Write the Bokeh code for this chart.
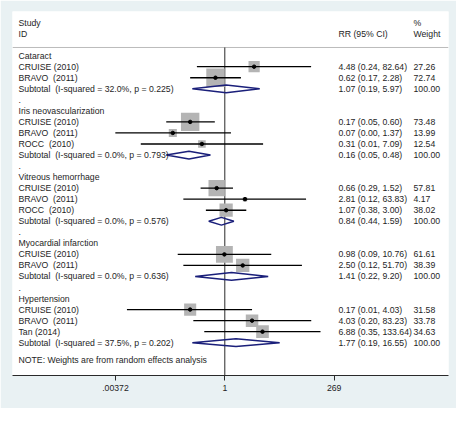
import math
from bokeh.plotting import figure
from bokeh.models import Range1d, FixedTicker, ColumnDataSource
from bokeh.core.properties import value
from bokeh.embed import file_html
from bokeh.resources import INLINE

# ---------------- data ----------------
groups = ["Cataract", "Iris neovascularization", "Vitreous hemorrhage",
          "Myocardial infarction", "Hypertension"]
study_group = [0, 0, 1, 1, 1, 2, 2, 2, 3, 3, 4, 4, 4]
study_id = ["CRUISE (2010)", "BRAVO\u00a0 (2011)",
            "CRUISE (2010)", "BRAVO\u00a0 (2011)", "ROCC\u00a0 (2010)",
            "CRUISE (2010)", "BRAVO\u00a0 (2011)", "ROCC\u00a0 (2010)",
            "CRUISE (2010)", "BRAVO\u00a0 (2011)",
            "CRUISE (2010)", "BRAVO\u00a0 (2011)", "Tan (2014)"]
study_rr = [4.48, 0.62, 0.17, 0.07, 0.31, 0.66, 2.81, 1.07, 0.98, 2.50, 0.17, 4.03, 6.88]
study_lci = [0.24, 0.17, 0.05, 0.0037, 0.0136, 0.29, 0.12, 0.38, 0.09, 0.12, 0.0067, 0.20, 0.35]
study_uci = [82.64, 2.28, 0.60, 1.37, 7.09, 1.52, 63.83, 3.00, 10.76, 51.70, 4.03, 83.23, 133.64]
study_weight = [27.26, 72.74, 73.48, 13.99, 12.54, 57.81, 4.17, 38.02, 61.61, 38.39, 31.58, 33.78, 34.63]
sub_rr = [1.07, 0.16, 0.84, 1.41, 1.77]
sub_lci = [0.19, 0.05, 0.44, 0.22, 0.19]
sub_uci = [5.97, 0.48, 1.59, 9.20, 16.55]
sub_i2 = [32.0, 0.0, 0.0, 0.0, 37.5]
sub_p = [0.225, 0.793, 0.576, 0.636, 0.202]
x_ticks = [0.00372, 1, 269]
x_tick_labels = [".00372", "1", "269"]
note_text = "NOTE: Weights are from random effects analysis"

# ---------------- layout helpers ----------------
FRAME_W = 436
PX_PER_LN = 19.55
X_MIN_LN = -212.3 / PX_PER_LN
X_MAX_LN = X_MIN_LN + FRAME_W / PX_PER_LN


def xpos(px):
    return math.exp(X_MIN_LN + px / PX_PER_LN)


COL_STUDY = xpos(6)
COL_RR = xpos(326)
COL_W = xpos(401)

FONT = "Liberation Sans"
FSIZE = "8.7px"
TXT = "#1e1e1e"
BOX = "#b4b4b4"
DIAMOND = "#1a1f7a"
BG = "#e9f1f3"

# ---------------- build rows ----------------
left_y, left_t = [], []
rr_y, rr_t, w_y, w_t = [], [], [], []
pts = dict(rr=[], lci=[], uci=[], y=[], side=[])
dia_xs, dia_ys = [], []

row = 0
for g, gname in enumerate(groups):
    left_y.append(row); left_t.append(gname)
    row += 1
    for i in range(len(study_id)):
        if study_group[i] != g:
            continue
        left_y.append(row); left_t.append(study_id[i])
        rr_y.append(row)
        rr_t.append(f"{study_rr[i]:.2f} ({study_lci[i]:.2f}, {study_uci[i]:.2f})")
        w_y.append(row); w_t.append(f"{study_weight[i]:.2f}")
        pts["rr"].append(study_rr[i]); pts["lci"].append(study_lci[i])
        pts["uci"].append(study_uci[i]); pts["y"].append(row)
        pts["side"].append(2.15 * math.sqrt(study_weight[i]))
        row += 1
    left_y.append(row)
    left_t.append(f"Subtotal\u00a0 (I-squared = {sub_i2[g]:.1f}%, p = {sub_p[g]:.3f})")
    rr_y.append(row)
    rr_t.append(f"{sub_rr[g]:.2f} ({sub_lci[g]:.2f}, {sub_uci[g]:.2f})")
    w_y.append(row); w_t.append("100.00")
    dia_xs.append([sub_lci[g], sub_rr[g], sub_uci[g], sub_rr[g]])
    dia_ys.append([row, row - 0.35, row, row + 0.35])
    row += 1
    if g < len(groups) - 1:
        left_y.append(row); left_t.append(".")
        row += 1

Y_TOP = -4.0
Y_BOTTOM = 28.97

p = figure(width=456, height=408, output_backend="svg", toolbar_location=None,
           x_axis_type="log",
           x_range=Range1d(math.exp(X_MIN_LN), math.exp(X_MAX_LN)),
           y_range=Range1d(Y_BOTTOM, Y_TOP),
           y_axis_location=None,
           min_border_left=12, min_border_right=8,
           min_border_top=11, min_border_bottom=33)
p.background_fill_color = "white"
p.border_fill_color = BG
p.outline_line_color = None
p.grid.visible = False

TXT_KW = dict(text_font=value(FONT), text_font_size=FSIZE, text_color=TXT,
              text_baseline="middle", text_align="left")

# header
p.text(x=[COL_STUDY, COL_STUDY], y=[-2.92, -1.92], text=["Study", "ID"], **TXT_KW)
p.text(x=[COL_RR], y=[-1.92], text=["RR (95% CI)"], **TXT_KW)
p.text(x=[COL_W, COL_W], y=[-2.92, -1.92], text=["%", "Weight"], **TXT_KW)
p.segment(x0=[math.exp(X_MIN_LN)], x1=[math.exp(X_MAX_LN)], y0=[-0.74], y1=[-0.74],
          line_color="#bcbcbc", line_width=1)

# null line at RR = 1
p.segment(x0=[1], x1=[1], y0=[-0.74], y1=[Y_BOTTOM], line_color="#2a2a2a", line_width=1)

# study boxes, CI lines, point estimates
src = ColumnDataSource(pts)
p.rect(x="rr", y="y", width="side", height="side", width_units="screen",
       height_units="screen", fill_color=BOX, line_color=None, source=src)
p.segment(x0="lci", x1="uci", y0="y", y1="y", line_color="black", line_width=1.3, source=src)
p.scatter(x="rr", y="y", size=3.5, marker="circle", color="black", source=src)

# subtotal diamonds
p.patches(xs=dia_xs, ys=dia_ys, fill_alpha=0, line_color=DIAMOND, line_width=1.5)

# text columns
p.text(x=[COL_STUDY] * len(left_t), y=left_y, text=left_t, **TXT_KW)
p.text(x=[COL_RR] * len(rr_t), y=rr_y, text=rr_t, **TXT_KW)
p.text(x=[COL_W] * len(w_t), y=w_y, text=w_t, **TXT_KW)
p.text(x=[COL_STUDY], y=[27.55], text=[note_text], **TXT_KW)

# x axis
ax = p.xaxis[0]
ax.ticker = FixedTicker(ticks=x_ticks)
ax.major_label_overrides = dict(zip(x_ticks, x_tick_labels))
ax.minor_tick_line_color = None
ax.axis_line_color = "#2a2a2a"
ax.major_tick_line_color = "#2a2a2a"
ax.major_tick_out = 5
ax.major_tick_in = 0
ax.major_label_standoff = 4
ax.major_label_text_font = FONT
ax.major_label_text_font_size = FSIZE
ax.major_label_text_color = TXT

open("out.html", "w").write(file_html(p, INLINE))
